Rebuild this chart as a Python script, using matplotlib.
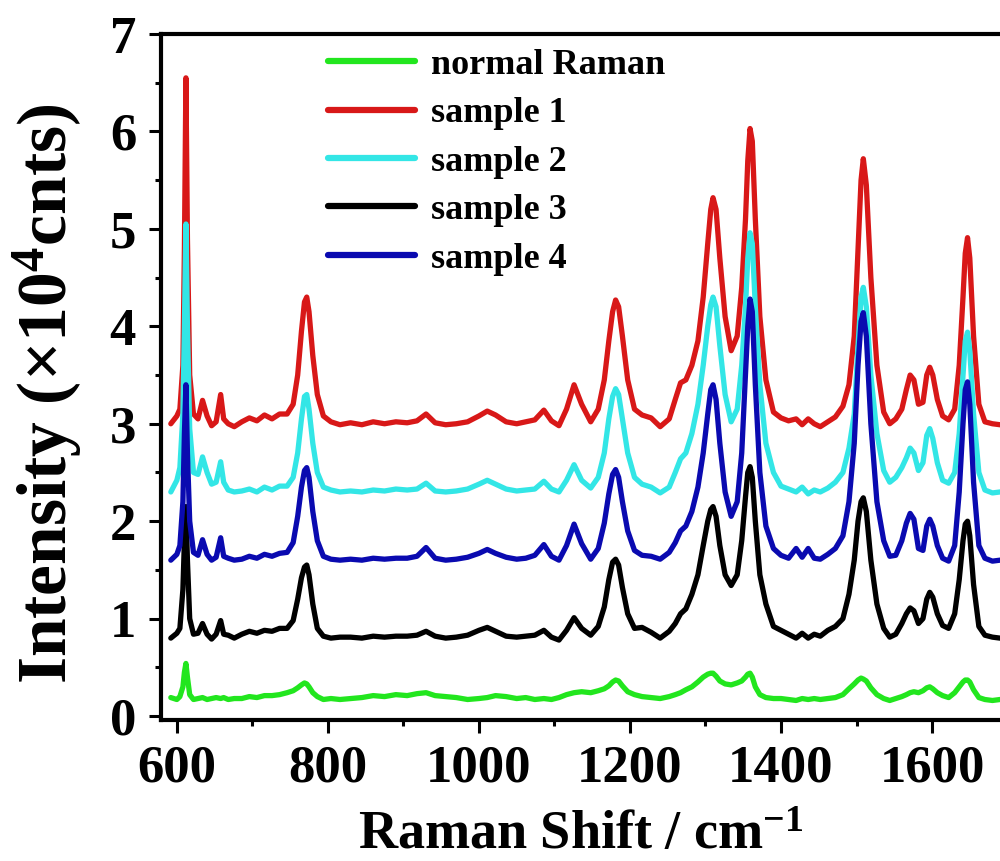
import matplotlib
matplotlib.use("Agg")
import matplotlib.pyplot as plt
from matplotlib.ticker import MultipleLocator

# Raman shift axis (cm^-1), shared by all spectra
shift = [
    592, 600, 604, 608, 610, 612, 614, 617, 622, 628, 634, 640, 646, 652, 658, 662, 668, 676,
    686, 696, 706, 716, 726, 736, 746, 754, 760, 765, 769, 772, 775, 780, 786, 794, 804, 816,
    830, 845, 860, 875, 890, 905, 918, 930, 942, 956, 970, 985, 1000, 1011, 1022, 1036, 1050, 1062, 1074, 1086, 1096, 1106,
    1116, 1126, 1136, 1148, 1158, 1166, 1172, 1177, 1181, 1185, 1190, 1197, 1206, 1216, 1228, 1240, 1252,
    1260, 1267, 1274, 1282, 1290, 1297, 1303, 1307, 1310, 1314, 1319, 1326, 1334, 1342, 1348, 1353, 1356, 1359, 1362, 1366, 1372, 1380, 1390,
    1400, 1410, 1420, 1428, 1436, 1444, 1452, 1462, 1472, 1482, 1490,
    1497, 1502, 1506, 1509, 1513, 1519, 1527, 1536, 1544, 1552, 1560,
    1566, 1571, 1576, 1582, 1588, 1593, 1597, 1601, 1607, 1614, 1622,
    1630, 1636, 1641, 1644, 1647, 1650, 1655, 1662, 1670, 1680, 1690, 1700,
]

# Intensities in units of 10^4 counts
normal_raman = [
    0.19, 0.17, 0.20, 0.30, 0.45, 0.54, 0.40, 0.22, 0.17, 0.18, 0.19, 0.17, 0.18, 0.19, 0.18, 0.19, 0.17, 0.18,
    0.18, 0.20, 0.19, 0.21, 0.21, 0.22, 0.24, 0.26, 0.29, 0.32, 0.34, 0.33, 0.30, 0.24, 0.20, 0.17, 0.18, 0.17,
    0.18, 0.19, 0.21, 0.20, 0.22, 0.21, 0.23, 0.24, 0.21, 0.20, 0.19, 0.17, 0.18, 0.19, 0.21, 0.20, 0.18, 0.19, 0.17, 0.18, 0.17, 0.19,
    0.22, 0.24, 0.25, 0.24, 0.26, 0.28, 0.31, 0.35, 0.37, 0.36, 0.31, 0.25, 0.22, 0.20, 0.19, 0.18, 0.20,
    0.22, 0.24, 0.27, 0.30, 0.35, 0.40, 0.43, 0.44, 0.44, 0.41, 0.36, 0.33, 0.32, 0.34, 0.36, 0.40, 0.43, 0.44, 0.40, 0.30, 0.22, 0.19, 0.18,
    0.18, 0.17, 0.16, 0.18, 0.17, 0.18, 0.17, 0.18, 0.19, 0.22, 0.28,
    0.33, 0.37, 0.39, 0.38, 0.36, 0.29, 0.22, 0.18, 0.16, 0.18, 0.20,
    0.22, 0.24, 0.25, 0.24, 0.26, 0.29, 0.30, 0.28, 0.24, 0.21, 0.19,
    0.24, 0.30, 0.35, 0.37, 0.37, 0.35, 0.27, 0.19, 0.17, 0.16, 0.17, 0.16,
]

sample_1 = [
    3.00, 3.08, 3.15, 3.60, 4.80, 6.55, 4.90, 3.50, 3.10, 3.05, 3.24, 3.08, 2.98, 3.02, 3.30, 3.05, 3.00, 2.97,
    3.02, 3.06, 3.03, 3.09, 3.05, 3.10, 3.10, 3.20, 3.50, 3.95, 4.25, 4.30, 4.15, 3.70, 3.30, 3.08, 3.02, 2.99,
    3.01, 2.99, 3.02, 3.00, 3.02, 3.01, 3.03, 3.10, 3.01, 2.99, 3.00, 3.02, 3.08, 3.13, 3.09, 3.02, 3.00, 3.02, 3.04, 3.14, 3.03, 2.98,
    3.15, 3.40, 3.20, 3.02, 3.15, 3.45, 3.85, 4.15, 4.27, 4.20, 3.90, 3.45, 3.15, 3.09, 3.06, 2.97, 3.05,
    3.25, 3.42, 3.45, 3.60, 3.85, 4.30, 4.85, 5.20, 5.32, 5.20, 4.70, 4.10, 3.75, 3.90, 4.40, 5.10, 5.70, 6.03, 5.90, 5.10, 4.10, 3.45, 3.12,
    3.06, 3.03, 3.05, 2.99, 3.05, 3.00, 2.97, 3.02, 3.07, 3.18, 3.40,
    3.90, 4.80, 5.50, 5.72, 5.45, 4.50, 3.60, 3.12, 3.00, 3.05, 3.15,
    3.35, 3.50, 3.45, 3.20, 3.22, 3.50, 3.58, 3.50, 3.25, 3.08, 3.04,
    3.15, 3.60, 4.30, 4.75, 4.91, 4.70, 3.90, 3.20, 3.02, 3.00, 2.99, 3.00,
]

sample_2 = [
    2.30, 2.42, 2.55, 3.10, 4.00, 5.05, 4.00, 2.95, 2.50, 2.48, 2.66, 2.50, 2.38, 2.40, 2.61, 2.40, 2.32, 2.30,
    2.31, 2.33, 2.30, 2.35, 2.32, 2.36, 2.36, 2.45, 2.70, 3.05, 3.28, 3.30, 3.15, 2.80, 2.50, 2.35, 2.32, 2.30,
    2.31, 2.30, 2.32, 2.31, 2.33, 2.32, 2.33, 2.39, 2.31, 2.30, 2.31, 2.33, 2.38, 2.42, 2.38, 2.33, 2.31, 2.32, 2.33, 2.41, 2.33, 2.30,
    2.42, 2.58, 2.42, 2.34, 2.45, 2.70, 3.05, 3.28, 3.36, 3.30, 3.05, 2.70, 2.45, 2.38, 2.35, 2.29, 2.35,
    2.50, 2.64, 2.70, 2.90, 3.20, 3.60, 4.00, 4.22, 4.30, 4.20, 3.80, 3.30, 3.02, 3.15, 3.60, 4.20, 4.70, 4.96, 4.85, 4.20, 3.40, 2.80, 2.50,
    2.36, 2.33, 2.30, 2.35, 2.28, 2.32, 2.30, 2.34, 2.40, 2.50, 2.75,
    3.10, 3.80, 4.30, 4.40, 4.20, 3.50, 2.90, 2.52, 2.40, 2.45, 2.55,
    2.65, 2.75, 2.70, 2.52, 2.60, 2.88, 2.95, 2.85, 2.60, 2.42, 2.39,
    2.50, 2.90, 3.50, 3.85, 3.94, 3.75, 3.10, 2.50, 2.32, 2.29, 2.30, 2.29,
]

sample_3 = [
    0.80, 0.85, 0.90, 1.30, 1.80, 2.15, 1.60, 1.00, 0.84, 0.85, 0.95, 0.84, 0.79, 0.84, 0.98, 0.84, 0.83, 0.80,
    0.84, 0.87, 0.85, 0.88, 0.87, 0.90, 0.90, 0.98, 1.20, 1.42, 1.53, 1.55, 1.45, 1.15, 0.90, 0.82, 0.80, 0.81,
    0.81, 0.80, 0.82, 0.81, 0.82, 0.82, 0.83, 0.87, 0.82, 0.80, 0.81, 0.83, 0.88, 0.91, 0.87, 0.82, 0.81, 0.82, 0.83, 0.88, 0.81, 0.78,
    0.88, 1.01, 0.90, 0.83, 0.92, 1.12, 1.40, 1.58, 1.61, 1.55, 1.32, 1.05, 0.90, 0.91, 0.86, 0.80, 0.87,
    0.95, 1.05, 1.10, 1.25, 1.45, 1.75, 2.00, 2.12, 2.15, 2.05, 1.75, 1.45, 1.34, 1.45, 1.80, 2.25, 2.50, 2.56, 2.45, 2.00, 1.45, 1.15, 0.92,
    0.88, 0.84, 0.80, 0.85, 0.80, 0.84, 0.82, 0.88, 0.92, 1.00, 1.25,
    1.60, 2.00, 2.20, 2.24, 2.10, 1.60, 1.15, 0.90, 0.81, 0.84, 0.95,
    1.05, 1.11, 1.08, 0.95, 1.00, 1.20, 1.27, 1.22, 1.05, 0.93, 0.90,
    1.05, 1.40, 1.80, 1.97, 2.00, 1.85, 1.35, 0.92, 0.83, 0.81, 0.80, 0.81,
]

sample_4 = [
    1.60, 1.66, 1.75, 2.20, 2.90, 3.40, 2.70, 2.00, 1.68, 1.65, 1.81, 1.66, 1.60, 1.63, 1.83, 1.64, 1.62, 1.60,
    1.61, 1.64, 1.62, 1.66, 1.64, 1.67, 1.68, 1.78, 2.05, 2.35, 2.52, 2.55, 2.45, 2.10, 1.80, 1.64, 1.61, 1.60,
    1.61, 1.60, 1.62, 1.61, 1.62, 1.62, 1.64, 1.73, 1.62, 1.60, 1.61, 1.63, 1.67, 1.71, 1.67, 1.63, 1.61, 1.62, 1.65, 1.76, 1.64, 1.60,
    1.75, 1.97, 1.77, 1.61, 1.72, 1.98, 2.28, 2.48, 2.53, 2.45, 2.20, 1.90, 1.70, 1.65, 1.64, 1.61, 1.68,
    1.78, 1.90, 1.95, 2.10, 2.35, 2.70, 3.10, 3.35, 3.40, 3.25, 2.80, 2.30, 2.05, 2.20, 2.70, 3.50, 4.00, 4.28, 4.15, 3.40, 2.50, 1.95, 1.72,
    1.65, 1.62, 1.72, 1.63, 1.72, 1.62, 1.61, 1.66, 1.72, 1.85, 2.20,
    2.80, 3.60, 4.05, 4.14, 3.90, 3.00, 2.20, 1.80, 1.64, 1.65, 1.80,
    1.98, 2.08, 2.02, 1.72, 1.70, 1.95, 2.02, 1.95, 1.75, 1.62, 1.59,
    1.75, 2.30, 3.00, 3.35, 3.43, 3.20, 2.40, 1.75, 1.62, 1.59, 1.60, 1.59,
]

labels = ["normal Raman", "sample 1", "sample 2", "sample 3", "sample 4"]
colors = ["#22e61e", "#d81818", "#33e6e6", "#000000", "#0a0ab0"]

plt.rcParams["font.family"] = ["Liberation Serif", "DejaVu Serif"]
plt.rcParams["font.weight"] = "bold"
plt.rcParams["mathtext.default"] = "regular"

fig = plt.figure(figsize=(10, 8.61), dpi=100)
ax = fig.add_axes([0.161, 0.1638, 0.839, 0.7967])

series = [normal_raman, sample_1, sample_2, sample_3, sample_4]
handles = []
for y, lab, c in zip(series, labels, colors):
    (h,) = ax.plot(shift, y, color=c, lw=3.8, solid_joinstyle="round", solid_capstyle="round", label=lab)
    handles.append(h)
# layering: blue above cyan, cyan above red, green last
for z, h in zip([5, 1, 2, 3, 4], handles):
    h.set_zorder(z)

ax.set_xlim(579, 1690)
ax.set_ylim(-0.04, 7.0)

ax.xaxis.set_major_locator(MultipleLocator(200))
ax.xaxis.set_minor_locator(MultipleLocator(100))
ax.yaxis.set_major_locator(MultipleLocator(1))
ax.yaxis.set_minor_locator(MultipleLocator(0.5))

for s in ["left", "bottom", "top"]:
    ax.spines[s].set_linewidth(3)
ax.spines["right"].set_visible(False)

ax.tick_params(which="major", direction="out", length=9, width=2.2, labelsize=38, pad=9)
ax.tick_params(which="minor", direction="out", length=4.5, width=2.2)
ax.tick_params(top=False, right=False, which="both")
for t in ax.get_xticklabels() + ax.get_yticklabels():
    t.set_fontweight("bold")

ax.set_xlabel("Raman Shift / cm$^{-1}$", fontsize=39, fontweight="bold")
ax.set_ylabel("Intensity (×10$^{4}$cnts)", fontsize=50, fontweight="bold")
ax.xaxis.set_label_coords(0.50, -0.133)
ax.yaxis.set_label_coords(-0.092, 0.475)

leg = ax.legend(handles=handles, loc="upper left", bbox_to_anchor=(0.182, 1.0),
                frameon=False, prop={"family": "Liberation Serif", "weight": "bold", "size": 26},
                handlelength=2.4, handletextpad=0.45, labelspacing=0.42, borderaxespad=0.0)
for lh in leg.get_lines():
    lh.set_linewidth(4.5)

fig.savefig("out.png", dpi=100, facecolor="white")
